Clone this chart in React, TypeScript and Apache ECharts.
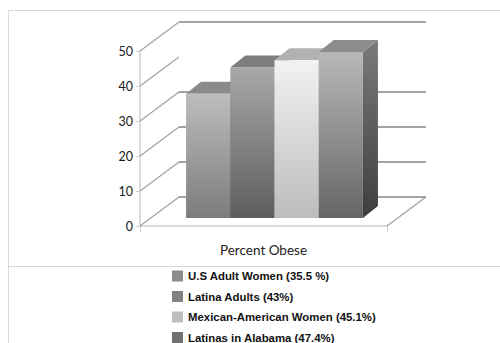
import React, { useEffect, useRef } from "react";
import * as echarts from "echarts";

const categories = ["Percent Obese"];
const seriesNames = [
  "U.S Adult Women (35.5 %)",
  "Latina Adults (43%)",
  "Mexican-American Women (45.1%)",
  "Latinas in Alabama (47.4%)",
];
const seriesValues = [35.5, 43, 45.1, 47.4];
const yTicks = [0, 10, 20, 30, 40, 50];
const hiddenBackLines = [40];

const legendColors = ["#8c8c8c", "#828282", "#bdbdbd", "#707070"];
const frontTop = ["#bdbdbd", "#a8a8a8", "#f2f2f2", "#b8b8b8"];
const frontBottom = ["#7c7c7c", "#5e5e5e", "#bcbcbc", "#666666"];
const topFace = ["#8a8a8a", "#7e7e7e", "#b2b2b2", "#8c8c8c"];

// 3D projection parameters (pixels)
const WALL_DX = 39;
const WALL_DY = -29;
const BAR_DX = 11;
const BAR_DY = -8;
const DEPTH_DX = 15;
const DEPTH_DY = -12;
const INSET = 0.142;

export default function App() {
  const ref = useRef<HTMLDivElement>(null);
  useEffect(() => {
    document.body.style.margin = "0";
    const chart = echarts.init(ref.current!, undefined, { renderer: "svg" });

    const wallSeries: any = {
      type: "custom",
      silent: true,
      z: 1,
      data: yTicks.map((t) => [0, t]),
      renderItem: (params: any, api: any) => {
        const cs = params.coordSys;
        const tick = api.value(1);
        const p = api.coord([0, tick]);
        const y = p[1];
        const x0 = cs.x;
        const children: any[] = [];
        children.push({
          type: "line",
          shape: { x1: x0, y1: y, x2: x0 + WALL_DX, y2: y + WALL_DY },
          style: { stroke: "#a3a3a3", lineWidth: 1.3 },
        });
        if (hiddenBackLines.indexOf(tick) < 0) {
          children.push({
            type: "line",
            shape: {
              x1: x0 + WALL_DX,
              y1: y + WALL_DY,
              x2: x0 + cs.width + WALL_DX,
              y2: y + WALL_DY,
            },
            style: { stroke: "#858585", lineWidth: 1.3 },
          });
        }
        if (tick === 0) {
          children.push({
            type: "line",
            shape: {
              x1: x0 + cs.width,
              y1: y,
              x2: x0 + cs.width + WALL_DX,
              y2: y + WALL_DY,
            },
            style: { stroke: "#a3a3a3", lineWidth: 1.3 },
          });
        }
        return { type: "group", children };
      },
    };

    const barSeries = seriesValues.map((v, i) => ({
      type: "custom",
      name: seriesNames[i],
      z: 2,
      itemStyle: { color: legendColors[i] },
      data: [[0, v]],
      renderItem: (params: any, api: any) => {
        const cs = params.coordSys;
        const top = api.coord([0, api.value(1)]);
        const base = api.coord([0, 0]);
        const inner = cs.width * (1 - 2 * INSET);
        const bw = inner / seriesValues.length;
        const xl = cs.x + cs.width * INSET + BAR_DX + bw * i;
        const xr = xl + bw;
        const yt = top[1] + BAR_DY;
        const yb = base[1] + BAR_DY;
        return {
          type: "group",
          children: [
            {
              type: "polygon",
              shape: {
                points: [
                  [xr, yt],
                  [xr + DEPTH_DX, yt + DEPTH_DY],
                  [xr + DEPTH_DX, yb + DEPTH_DY],
                  [xr, yb],
                ],
              },
              style: {
                fill: new echarts.graphic.LinearGradient(0, 0, 0, 1, [
                  { offset: 0, color: "#7a7a7a" },
                  { offset: 1, color: "#3e3e3e" },
                ]),
              },
            },
            {
              type: "polygon",
              shape: {
                points: [
                  [xl, yt],
                  [xl + DEPTH_DX, yt + DEPTH_DY],
                  [xr + DEPTH_DX, yt + DEPTH_DY],
                  [xr, yt],
                ],
              },
              style: { fill: topFace[i] },
            },
            {
              type: "rect",
              shape: { x: xl, y: yt, width: bw, height: yb - yt },
              style: {
                fill: new echarts.graphic.LinearGradient(0, 0, 0, 1, [
                  { offset: 0, color: frontTop[i] },
                  { offset: 1, color: frontBottom[i] },
                ]),
              },
            },
          ],
        };
      },
    }));

    chart.setOption({
      animation: false,
      backgroundColor: "#ffffff",
      graphic: [
        { type: "line", shape: { x1: 8, y1: 10.5, x2: 500, y2: 10.5 }, style: { stroke: "#d9d9d9", lineWidth: 1 } },
        { type: "line", shape: { x1: 8.5, y1: 10, x2: 8.5, y2: 343 }, style: { stroke: "#d9d9d9", lineWidth: 1 } },
        { type: "line", shape: { x1: 8, y1: 266.5, x2: 500, y2: 266.5 }, style: { stroke: "#d9d9d9", lineWidth: 1 } },
      ],
      grid: { left: 140, top: 51, width: 247, height: 175 },
      xAxis: {
        type: "category",
        data: categories,
        axisLine: { lineStyle: { color: "#cfcfcf", width: 1.5 } },
        axisTick: { show: true, length: 6, lineStyle: { color: "#cfcfcf" } },
        axisLabel: {
          margin: 17,
          fontFamily: "Lato",
          fontSize: 13.5,
          color: "#222",
        },
      },
      yAxis: {
        type: "value",
        min: 0,
        max: 50,
        interval: 10,
        axisLine: { show: true, lineStyle: { color: "#cfcfcf", width: 1.5 } },
        axisTick: { show: true, length: 4, lineStyle: { color: "#cfcfcf" } },
        splitLine: { show: false },
        axisLabel: {
          margin: 7,
          fontFamily: "Lato",
          fontSize: 12.5,
          color: "#1a1a1a",
        },
      },
      legend: {
        orient: "vertical",
        left: 172,
        top: 270.5,
        height: 100,
        padding: 0,
        itemWidth: 11,
        itemHeight: 11,
        itemGap: 9.5,
        icon: "rect",
        data: seriesNames,
        textStyle: {
          fontFamily: "Liberation Sans",
          fontWeight: "bold",
          fontSize: 11.4,
          color: "#111",
        },
      },
      series: [wallSeries, ...barSeries],
    });
    return () => chart.dispose();
  }, []);
  return <div ref={ref} style={{ width: 500, height: 343 }} />;
}
